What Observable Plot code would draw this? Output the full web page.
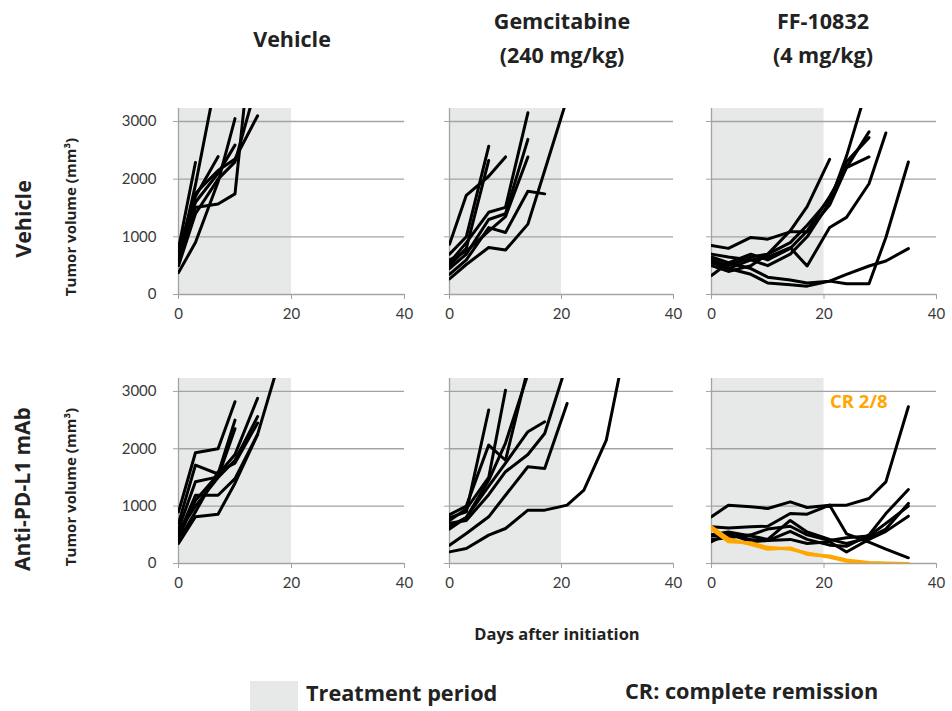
<!DOCTYPE html>
<html>
<head>
<meta charset="utf-8">
<script src="https://cdn.jsdelivr.net/npm/d3@7"></script>
<script src="https://cdn.jsdelivr.net/npm/@observablehq/plot@0.6"></script>
<style>
  body { margin: 0; background: #fff; }
  #wrap { position: relative; width: 952px; height: 711px; font-family: "Open Sans", Lato, sans-serif; color: #222; overflow: hidden; }
  .t { position: absolute; font-weight: 700; white-space: nowrap; }
  .ctitle { font-size: 21.5px; text-align: center; line-height: 34px; transform: translateX(-50%); }
  .rot { transform: translate(-50%, -50%) rotate(-90deg); }
  .panel { position: absolute; }
</style>
</head>
<body>
<div id="wrap"></div>
<script>
// ---- data ----
const days = [0, 3, 7, 10, 14, 17, 21, 24, 28, 31, 35];
const xTicks = [0, 20, 40];
const yTicks = [0, 1000, 2000, 3000];
const gridValues = [1000, 2000, 3000];
const xDomain = [0, 40];
const yDomain = [0, 3225];
const treatment = [0, 20];

const colTitles = [["Vehicle"], ["Gemcitabine", "(240 mg/kg)"], ["FF-10832", "(4 mg/kg)"]];
const rowTitles = ["Vehicle", "Anti-PD-L1 mAb"];

// Row 1: Vehicle
const vehVeh = [
  [800, 2290],
  [600, 1900, 3900],
  [700, 1700, 2390],
  [380, 900, 1950, 3050],
  [650, 1510, 1570, 1745, 5500],
  [550, 1600, 2100, 2590],
  [750, 1750, 2150, 2350, 3100],
  [500, 1400, 2000, 2300, 3700]
];
const vehGem = [
  [700, 1000, 2570],
  [500, 800, 2325],
  [870, 1720, 2050, 2385],
  [550, 900, 1425, 1510, 3150],
  [450, 700, 1300, 1400, 2690],
  [600, 750, 1100, 1350, 2385],
  [350, 600, 1160, 1075, 1790, 1745],
  [270, 520, 815, 770, 1220, 2150, 3400]
];
const vehFF = [
  [600, 500, 650, 700, 1105, 1523, 2344],
  [700, 650, 600, 500, 700, 1000, 1600, 2400, 3700],
  [650, 550, 700, 600, 800, 1100, 1700, 2200, 2820],
  [500, 400, 500, 700, 900, 1200, 1650, 2300, 2720],
  [850, 800, 990, 960, 1087, 1087, 1550, 2200, 2385],
  [550, 450, 600, 650, 813, 494, 1162, 1337, 1920, 2800],
  [600, 450, 350, 200, 170, 145, 232, 185, 185, 988, 2297],
  [330, 550, 450, 300, 250, 200, 232, 349, 494, 581, 796]
];
// Row 2: Anti-PD-L1 mAb
const pdVeh = [
  [900, 1930, 2000, 2820],
  [700, 1715, 1560, 2500],
  [600, 1425, 1510, 2350],
  [500, 1190, 1190, 1480, 2250],
  [350, 815, 860, 1400, 2250, 3250],
  [450, 1100, 1550, 1900, 2880],
  [550, 1000, 1500, 1800, 2560],
  [400, 900, 1600, 1750, 2450]
];
const pdGem = [
  [800, 900, 2675],
  [750, 950, 1500, 3020],
  [850, 1000, 2064, 1800, 3400],
  [600, 800, 1450, 2100, 3300],
  [650, 800, 1350, 1750, 2297, 2470],
  [700, 750, 1200, 1600, 1900, 2267, 3500],
  [203, 262, 494, 610, 930, 930, 1017, 1280, 2150, 3600],
  [320, 523, 814, 1190, 1686, 1657, 2790]
];
const pdFF = [
  [814, 1017, 990, 959, 1075, 977, 1017, 1017, 1134, 1424, 2733],
  [640, 620, 640, 650, 872, 860, 1017, 518, 372, 250, 99],
  [480, 500, 420, 400, 560, 420, 320, 300, 500, 870, 1290],
  [500, 550, 480, 420, 750, 550, 420, 350, 450, 600, 1047],
  [380, 520, 380, 400, 420, 350, 380, 200, 420, 560, 825],
  [420, 450, 500, 600, 650, 500, 400, 450, 480, 700, 1000]
];
const pdFFcr = [
  [640, 430, 330, 250, 270, 160, 130, 60, 15, 5, 0],
  [600, 380, 360, 280, 250, 180, 110, 40, 5, 0, 0]
];
const crLabel = "CR 2/8";
const orange = "#ffa600";

// ---- layout ----
const wrap = document.getElementById("wrap");
const colLeft = [178, 449, 711];
const colWidth = [226, 224, 225];
const rowTop = [108, 378];
const rowHeight = [186, 185];
const mL = 62, mR = 10, mT = 6, mB = 36;

function toRows(series) {
  const out = [];
  series.forEach((vals, i) => vals.forEach((v, j) => out.push({mouse: i, day: days[j], vol: v})));
  return out;
}

function panel(series, cr, showY) {
  const rows = toRows(series);
  const marks = [
    Plot.rect([treatment], {x1: d => d[0], x2: d => d[1], y1: () => yDomain[0], y2: () => yDomain[1], fill: "#e7e8e8"}),
    Plot.ruleY(gridValues, {x1: () => xDomain[0], x2: () => xDomain[1], stroke: "#a3a3a3", strokeWidth: 1.3}),
    Plot.ruleY([0], {x1: () => xDomain[0], x2: () => xDomain[1], stroke: "#a3a3a3", strokeWidth: 1.3}),
    Plot.ruleX([0], {y1: () => yDomain[0], y2: () => yDomain[1], stroke: "#a3a3a3", strokeWidth: 1.3}),
    Plot.axisX({ticks: xTicks, tickSize: 5, tickPadding: 9, stroke: "#a3a3a3", fill: "#3a3a3a", label: null}),
    Plot.axisY({ticks: yTicks, tickSize: 5, tickPadding: 17, stroke: "#a3a3a3", fill: "#3a3a3a", label: null,
      tickFormat: showY ? d => String(d) : () => ""}),
    Plot.line(rows, {x: "day", y: "vol", z: "mouse", stroke: "#000", strokeWidth: 3, clip: true})
  ];
  if (cr) {
    marks.push(Plot.line(toRows(cr), {x: "day", y: "vol", z: "mouse", stroke: orange, strokeWidth: 3.2, clip: true}));
  }
  return marks;
}

const grid = [
  [panel(vehVeh, null, true), panel(vehGem, null, false), panel(vehFF, null, false)],
  [panel(pdVeh, null, true), panel(pdGem, null, false), panel(pdFF, pdFFcr, false)]
];

grid.forEach((row, r) => row.forEach((marks, c) => {
  const svg = Plot.plot({
    width: colWidth[c] + mL + mR,
    height: rowHeight[r] + mT + mB,
    marginLeft: mL, marginRight: mR, marginTop: mT, marginBottom: mB,
    x: {domain: xDomain},
    y: {domain: yDomain},
    style: {fontFamily: "Lato, 'Open Sans', sans-serif", fontSize: "15px", background: "transparent", overflow: "visible"},
    marks
  });
  svg.classList.add("panel");
  svg.style.left = (colLeft[c] - mL) + "px";
  svg.style.top = (rowTop[r] - mT) + "px";
  wrap.appendChild(svg);
}));

function addText(txt, cls, css) {
  const d = document.createElement("div");
  d.className = "t " + cls;
  d.textContent = txt;
  Object.assign(d.style, css);
  wrap.appendChild(d);
  return d;
}

// column titles
const colCenters = [292, 562, 823];
colTitles.forEach((lines, c) => {
  const d = document.createElement("div");
  d.className = "t ctitle";
  d.innerHTML = lines.join("<br>");
  d.style.left = colCenters[c] + "px";
  d.style.top = (lines.length === 1 ? 22 : 4) + "px";
  wrap.appendChild(d);
});

// row titles
addText(rowTitles[0], "rot", {left: "22px", top: "219px", fontSize: "21.5px"});
addText(rowTitles[1], "rot", {left: "22px", top: "489px", fontSize: "21px"});
// y axis labels
addText("Tumor volume (mm³)", "rot", {left: "70px", top: "217px", fontSize: "15px"});
addText("Tumor volume (mm³)", "rot", {left: "70px", top: "487px", fontSize: "15px"});
// CR label
addText(crLabel, "", {left: "830px", top: "388px", fontSize: "18.5px", color: orange});
// x axis title
addText("Days after initiation", "", {left: "557px", top: "622px", fontSize: "16.5px", transform: "translateX(-50%)"});
// legend
const sw = document.createElement("div");
Object.assign(sw.style, {position: "absolute", left: "250px", top: "681px", width: "48px", height: "30px", background: "#e7e8e8"});
wrap.appendChild(sw);
addText("Treatment period", "", {left: "306px", top: "678px", fontSize: "21.7px"});
addText("CR: complete remission", "", {left: "625px", top: "676px", fontSize: "21.7px"});
</script>
</body>
</html>
